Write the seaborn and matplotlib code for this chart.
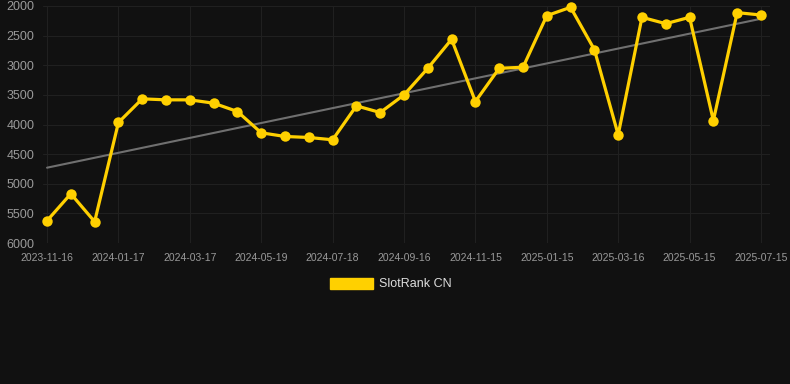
import numpy as np
import pandas as pd
import seaborn as sns
import matplotlib.pyplot as plt
from matplotlib.patches import Patch

# SlotRank CN rank values (lower is better), one point every ~20 days
rank = [5624, 5169, 5640, 3966, 3567, 3584, 3584, 3640, 3781, 4140,
        4202, 4219, 4258, 3685, 3798, 3500, 3051, 2562, 3612, 3051,
        3034, 2163, 2022, 2736, 4174, 2191, 2298, 2191, 3933, 2112, 2152]
tick_labels = ['2023-11-16', '2024-01-17', '2024-03-17', '2024-05-19',
               '2024-07-18', '2024-09-16', '2024-11-15', '2025-01-15',
               '2025-03-16', '2025-05-15', '2025-07-15']

df = pd.DataFrame({'idx': np.arange(len(rank)), 'rank': rank})

sns.set_style('dark')
plt.rcParams['font.family'] = ['Liberation Sans', 'DejaVu Sans']
bg = '#111111'
fig = plt.figure(figsize=(7.9, 3.84), dpi=100, facecolor=bg)
ax = fig.add_axes([43 / 790, 1 - 243 / 384, 727 / 790, 237 / 384])
ax.set_facecolor(bg)

# trend line
sns.regplot(data=df, x='idx', y='rank', scatter=False, ci=None, truncate=True,
            line_kws={'color': '#707070', 'lw': 1.5, 'zorder': 2}, ax=ax)

sns.lineplot(data=df, x='idx', y='rank', color='#FFD000', lw=2.3,
             marker='o', markersize=7.5, markeredgewidth=0, zorder=3,
             clip_on=False, ax=ax)

ax.set_ylim(6000, 2000)
ax.set_yticks(range(2000, 6001, 500))
ax.set_xlim(-0.17, 30.38)
ax.set_xticks(range(0, 31, 3))
ax.set_xticklabels(tick_labels)
ax.grid(True, color='#202020', lw=0.8)
ax.set_axisbelow(True)
for s in ax.spines.values():
    s.set_visible(False)
ax.tick_params(axis='y', colors='#9a9a9a', labelsize=9, length=0, pad=6)
ax.tick_params(axis='x', colors='#9a9a9a', labelsize=7.5, length=0, pad=7)
ax.set_xlabel('')
ax.set_ylabel('')

fig.legend(handles=[Patch(color='#FFD000', label='SlotRank CN')],
           loc='center', bbox_to_anchor=(0.495, 1 - 284 / 384), frameon=False,
           fontsize=9, labelcolor='#dddddd', handlelength=3.4, handleheight=1.0,
           handletextpad=0.5)

fig.savefig('out.png', dpi=100, facecolor=bg)
